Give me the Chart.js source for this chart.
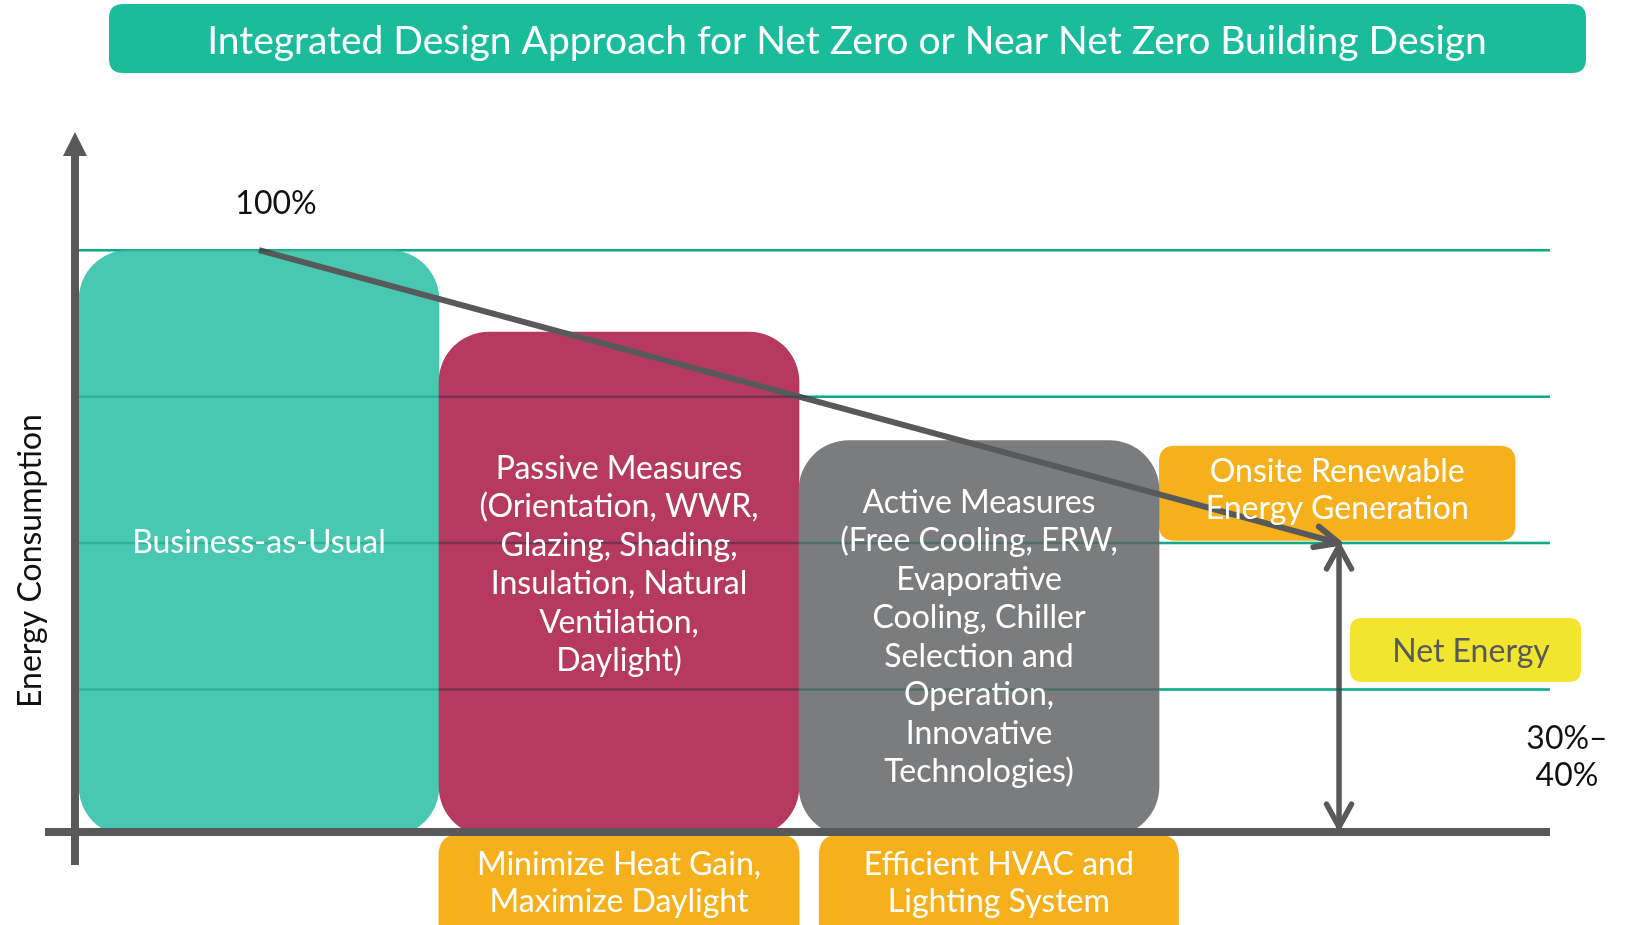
<!DOCTYPE html>
<html>
<head>
<meta charset="utf-8">
<script src="https://cdn.jsdelivr.net/npm/chart.js@4.4.1/dist/chart.umd.min.js"></script>
<style>
  html, body { margin: 0; padding: 0; background: #fff; }
  #wrap { width: 1629px; height: 925px; }
</style>
</head>
<body>
<div id="wrap"><canvas id="c" width="1629" height="925"></canvas></div>
<script>
// Net zero design diagram: three rounded bars + annotations on a 0-120 % scale.

const chartTitle = 'Integrated Design Approach for Net Zero or Near Net Zero Building Design';
const yTitle = 'Energy Consumption';
const categories = ['Business-as-Usual', 'Passive Measures', 'Active Measures'];
const barText = [
  ['Business-as-Usual'],
  ['Passive Measures', '(Orientation, WWR,', 'Glazing, Shading,', 'Insulation, Natural', 'Ventilation,', 'Daylight)'],
  ['Active Measures', '(Free Cooling, ERW,', 'Evaporative', 'Cooling, Chiller', 'Selection and', 'Operation,', 'Innovative', 'Technologies)'],
];
const consumption = [100, 86, 67.5];           // % of business-as-usual
const gridLevels = [25, 50, 75, 100];
const trend = [{ x: 0.5, y: 100 }, { x: 3.5, y: 50 }];
const netSpan = [{ x: 3.5, y: 50 }, { x: 3.5, y: 0 }];
const topLabel = '100%';
const savingLabel = ['30%–', '40%'];
const renewableLabel = ['Onsite Renewable', 'Energy Generation'];
const netLabel = 'Net Energy';
const strategyText = [['Minimize Heat Gain,', 'Maximize Daylight'], ['Efficient HVAC and', 'Lighting System']];

const C = {
  teal: '#1ABC9C',
  bau: '#48C8B0',
  passive: '#B63A60',
  active: '#7B7C7E',
  axis: '#58595B',
  orange: '#F5B01B',
  yellow: '#F2E52D',
  white: '#ffffff',
  ink: '#111111',
};
const FONT = 'Lato, "Open Sans", sans-serif';

function rrect(ctx, x, y, w, h, r) {
  ctx.beginPath();
  ctx.moveTo(x + r, y);
  ctx.lineTo(x + w - r, y);
  ctx.quadraticCurveTo(x + w, y, x + w, y + r);
  ctx.lineTo(x + w, y + h - r);
  ctx.quadraticCurveTo(x + w, y + h, x + w - r, y + h);
  ctx.lineTo(x + r, y + h);
  ctx.quadraticCurveTo(x, y + h, x, y + h - r);
  ctx.lineTo(x, y + r);
  ctx.quadraticCurveTo(x, y, x + r, y);
  ctx.closePath();
}

function lines(ctx, arr, cx, cy, lh, size, color) {
  ctx.save();
  ctx.font = size + 'px ' + FONT;
  ctx.fillStyle = color;
  ctx.textAlign = 'center';
  ctx.textBaseline = 'middle';
  const y0 = cy - (arr.length - 1) * lh / 2;
  arr.forEach((t, i) => ctx.fillText(t, cx, y0 + i * lh));
  ctx.restore();
}

function chevron(ctx, x, y, ang, len, spread, w) {
  ctx.save();
  ctx.strokeStyle = C.axis;
  ctx.lineWidth = w;
  ctx.lineCap = 'round';
  ctx.lineJoin = 'round';
  ctx.beginPath();
  ctx.moveTo(x - len * Math.cos(ang - spread), y - len * Math.sin(ang - spread));
  ctx.lineTo(x, y);
  ctx.lineTo(x - len * Math.cos(ang + spread), y - len * Math.sin(ang + spread));
  ctx.stroke();
  ctx.restore();
}

function gridLines(chart, style, op, alpha) {
  const { ctx, chartArea, scales: { y } } = chart;
  ctx.save();
  ctx.globalCompositeOperation = op;
  ctx.globalAlpha = alpha;
  ctx.strokeStyle = style;
  ctx.lineWidth = 2.5;
  gridLevels.forEach(v => {
    const py = y.getPixelForValue(v);
    ctx.beginPath();
    ctx.moveTo(chartArea.left, py);
    ctx.lineTo(chartArea.right, py);
    ctx.stroke();
  });
  ctx.restore();
}

const decor = {
  id: 'decor',
  beforeDatasetsDraw(chart) {
    const { ctx, scales: { x, y } } = chart;
    gridLines(chart, C.teal, 'source-over', 1);

    // title banner
    ctx.save();
    ctx.fillStyle = C.teal;
    rrect(ctx, 109, 4, 1477, 69, 14);
    ctx.fill();
    ctx.restore();
    lines(ctx, [chartTitle], 847, 41, 0, 39, C.white);

    // renewable box, sitting on the 50 % line
    ctx.save();
    ctx.fillStyle = C.orange;
    const rx0 = x.getPixelForValue(3), rx1 = x.getPixelForValue(3.99);
    const ry0 = y.getPixelForValue(66.6), ry1 = y.getPixelForValue(50.4);
    rrect(ctx, rx0, ry0, rx1 - rx0, ry1 - ry0, 16);
    ctx.fill();

    // net energy box
    ctx.fillStyle = C.yellow;
    rrect(ctx, 1350, 618, 231, 64, 12);
    ctx.fill();

    // strategy boxes under the axis
    ctx.fillStyle = C.orange;
    [[x.getPixelForValue(1.5), 361], [x.getPixelForValue(2.555), 360]].forEach(([cx, w]) => {
      rrect(ctx, cx - w / 2, 834, w, 130, 22);
      ctx.fill();
    });
    ctx.restore();
  },
  afterDatasetsDraw(chart) {
    const { ctx, chartArea, scales: { x, y } } = chart;
    gridLines(chart, C.teal, 'multiply', 0.4);

    // axes
    const y0 = y.getPixelForValue(0);
    const ax = chartArea.left - 4;
    ctx.save();
    ctx.fillStyle = C.axis;
    ctx.fillRect(45, y0 - 8, chartArea.right - 45, 8);
    ctx.fillRect(ax - 4, 150, 8, 865 - 150);
    ctx.beginPath();
    ctx.moveTo(ax, 132);
    ctx.lineTo(ax + 12, 156);
    ctx.lineTo(ax - 12, 156);
    ctx.closePath();
    ctx.fill();
    ctx.restore();

    // arrow heads
    const tx = x.getPixelForValue(trend[1].x), ty = y.getPixelForValue(trend[1].y);
    const sx = x.getPixelForValue(trend[0].x), sy = y.getPixelForValue(trend[0].y);
    chevron(ctx, tx, ty, Math.atan2(ty - sy, tx - sx), 26, 0.42, 6);
    const nx = x.getPixelForValue(netSpan[0].x);
    chevron(ctx, nx, y.getPixelForValue(netSpan[0].y) + 3, -Math.PI / 2, 26, 0.5, 5.5);
    chevron(ctx, nx, y0 - 9, Math.PI / 2, 26, 0.5, 5.5);

    // bar texts
    const meta = chart.getDatasetMeta(0);
    const textLevel = [50, 46.3, 33.9];
    barText.forEach((arr, i) => {
      lines(ctx, arr, meta.data[i].x, y.getPixelForValue(textLevel[i]), 38.5, 32, C.white);
    });

    lines(ctx, renewableLabel, (x.getPixelForValue(3) + x.getPixelForValue(3.99)) / 2, 490, 36.5, 32, C.white);
    lines(ctx, [netLabel], 1471, 652, 0, 32, C.axis);
    lines(ctx, strategyText[0], x.getPixelForValue(1.5), 883, 37.5, 32, C.white);
    lines(ctx, strategyText[1], x.getPixelForValue(2.555), 883, 37.5, 32, C.white);
    lines(ctx, [topLabel], 276, 204, 0, 32, C.ink);
    lines(ctx, savingLabel, 1567, 757, 37, 32, C.ink);

    ctx.save();
    ctx.translate(31, 561);
    ctx.rotate(-Math.PI / 2);
    lines(ctx, [yTitle], 0, 0, 0, 32, C.ink);
    ctx.restore();
  },
};

new Chart(document.getElementById('c'), {
  data: {
    datasets: [
      {
        type: 'bar',
        label: 'Consumption',
        data: consumption.map((v, i) => ({ x: i + 0.5, y: v })),
        backgroundColor: [C.bau, C.passive, C.active],
        borderWidth: 0,
        borderRadius: 50,
        borderSkipped: false,
        categoryPercentage: 1,
        barPercentage: 1,
        order: 2,
      },
      {
        type: 'line',
        label: 'Trend',
        data: trend,
        borderColor: C.axis,
        borderWidth: 6,
        pointRadius: 0,
        order: 1,
      },
      {
        type: 'line',
        label: 'Net',
        data: netSpan,
        borderColor: C.axis,
        borderWidth: 5.5,
        pointRadius: 0,
        order: 1,
      },
    ],
  },
  options: {
    responsive: false,
    animation: false,
    layout: { padding: { left: 79, right: 79, top: 133, bottom: 89 } },
    plugins: { legend: { display: false }, tooltip: { enabled: false }, title: { display: false } },
    scales: {
      x: { type: 'linear', min: 0, max: 4.086, offset: false, display: false, ticks: { stepSize: 1 } },
      y: { min: 0, max: 120, display: false },
    },
  },
  plugins: [decor],
});
</script>
</body>
</html>
